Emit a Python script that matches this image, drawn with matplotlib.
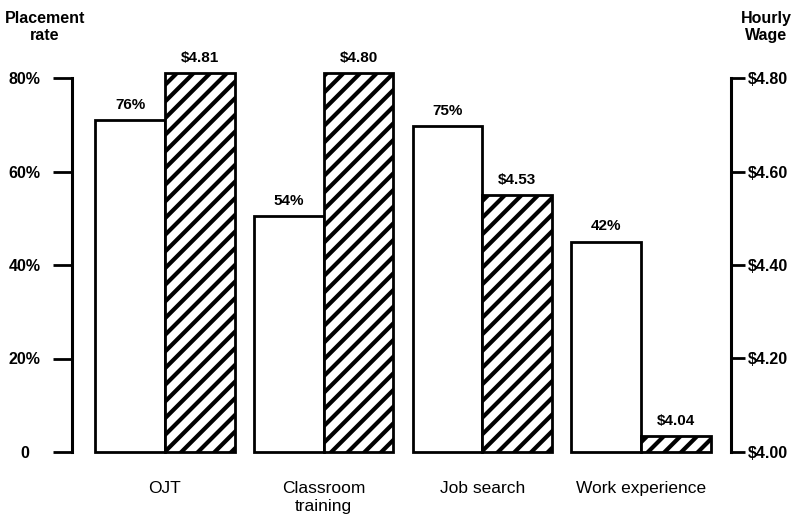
import numpy as np
import matplotlib
matplotlib.use('Agg')
import matplotlib.pyplot as plt

plt.rcParams['font.family'] = ['Liberation Sans', 'DejaVu Sans']
plt.rcParams['hatch.linewidth'] = 3.0

# data
programs = ["OJT", "Classroom\ntraining", "Job search", "Work experience"]
placement_labels = ["76%", "54%", "75%", "42%"]
wage_labels = ["$4.81", "$4.80", "$4.53", "$4.04"]
# bar heights as drawn in the original (it is not drawn to its own labels)
placement_height = [71.0, 50.5, 69.7, 45.0]
wage_height = [4.811, 4.811, 4.55, 4.034]

left_ticks = [0, 20, 40, 60, 80]
left_ticklabels = ["0", "20%", "40%", "60%", "80%"]
right_ticks = [4.00, 4.20, 4.40, 4.60, 4.80]
right_ticklabels = ["$4.00", "$4.20", "$4.40", "$4.60", "$4.80"]

W, H = 803, 520
fig = plt.figure(figsize=(W / 100, H / 100), dpi=100)
ax = fig.add_axes([72 / W, (H - 452) / H, (731 - 72) / W, (452 - 78) / H])
axw = ax.twinx()

x = np.arange(len(programs))
w = 0.44
lw = 2.0

ax.bar(x - w / 2, placement_height, w, facecolor='white', edgecolor='black',
       linewidth=lw, zorder=2, clip_on=False)
axw.bar(x + w / 2, np.array(wage_height) - 4.0, w, bottom=4.0,
        facecolor='white', edgecolor='black', hatch='//', linewidth=lw,
        zorder=2, clip_on=False)

for xi, h, lab in zip(x, placement_height, placement_labels):
    ax.annotate(lab, (xi - w / 2, h), xytext=(0, 6), textcoords='offset points',
                ha='center', va='bottom', fontsize=11, fontweight='bold',
                annotation_clip=False)
for xi, h, lab in zip(x, wage_height, wage_labels):
    axw.annotate(lab, (xi + w / 2, h), xytext=(0, 6), textcoords='offset points',
                 ha='center', va='bottom', fontsize=11, fontweight='bold',
                 annotation_clip=False)

ax.set_xlim(-0.586, 3.567)
ax.set_ylim(0, 80)
axw.set_ylim(4.0, 4.8)

for a in (ax, axw):
    for s in ('top', 'bottom'):
        a.spines[s].set_visible(False)
ax.spines['right'].set_visible(False)
axw.spines['left'].set_visible(False)
ax.spines['left'].set_linewidth(2.2)
axw.spines['right'].set_linewidth(2.2)
ax.spines['left'].set_bounds(0, 80)
axw.spines['right'].set_bounds(4.0, 4.8)

ax.set_yticks(left_ticks)
ax.set_yticklabels(left_ticklabels, fontsize=11.5, fontweight='bold', ha='center')
ax.tick_params(axis='y', length=14, width=2.0, pad=20)
axw.set_yticks(right_ticks)
axw.set_yticklabels(right_ticklabels, fontsize=11.5, fontweight='bold')
axw.tick_params(axis='y', length=10, width=2.0, pad=2)

ax.set_xticks(x)
ax.set_xticklabels(programs, fontsize=12.5, linespacing=1.25, va='top')
ax.tick_params(axis='x', length=0, pad=21)

fig.text(45 / W, 1 - 11 / H, "Placement\nrate", ha='center', va='top',
         fontsize=11.5, fontweight='bold', linespacing=1.2)
fig.text(766 / W, 1 - 11 / H, "Hourly\nWage", ha='center', va='top',
         fontsize=11.5, fontweight='bold', linespacing=1.2)

fig.savefig('out.png', dpi=100)
